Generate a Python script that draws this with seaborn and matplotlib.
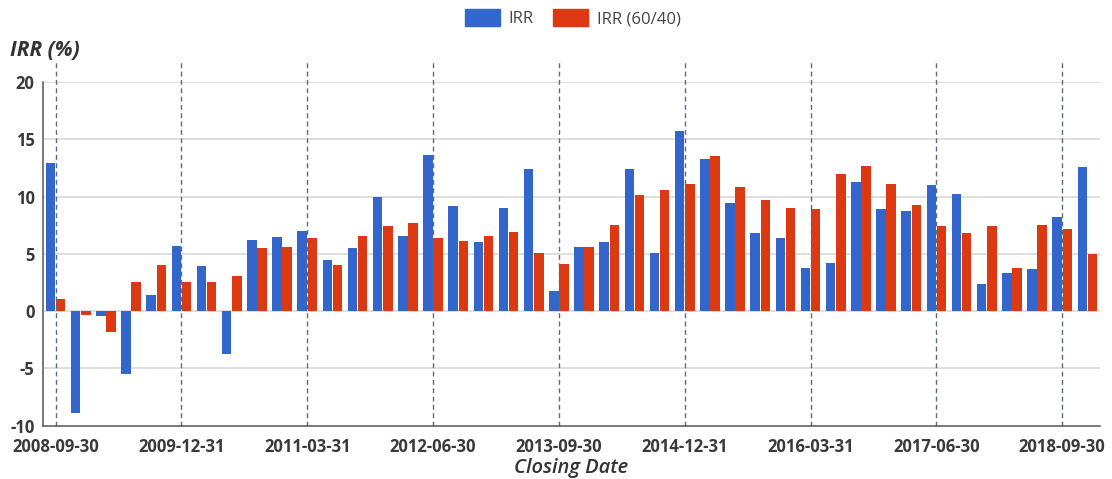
import matplotlib
matplotlib.use("Agg")
import matplotlib.pyplot as plt
from matplotlib.patches import Patch
import seaborn as sns
import pandas as pd

dates = [
    "2008-09-30", "2008-12-31", "2009-03-31", "2009-06-30", "2009-09-30",
    "2009-12-31", "2010-03-31", "2010-06-30", "2010-09-30", "2010-12-31",
    "2011-03-31", "2011-06-30", "2011-09-30", "2011-12-31", "2012-03-31",
    "2012-06-30", "2012-09-30", "2012-12-31", "2013-03-31", "2013-06-30",
    "2013-09-30", "2013-12-31", "2014-03-31", "2014-06-30", "2014-09-30",
    "2014-12-31", "2015-03-31", "2015-06-30", "2015-09-30", "2015-12-31",
    "2016-03-31", "2016-06-30", "2016-09-30", "2016-12-31", "2017-03-31",
    "2017-06-30", "2017-09-30", "2017-12-31", "2018-03-31", "2018-06-30",
    "2018-09-30", "2018-12-31",
]
irr = [
    12.9, -8.9, -0.4, -5.5, 1.4, 5.7, 3.9, -3.7, 6.2, 6.5,
    7.0, 4.5, 5.5, 10.0, 6.6, 13.6, 9.2, 6.0, 9.0, 12.4,
    1.8, 5.6, 6.0, 12.4, 5.1, 15.7, 13.3, 9.4, 6.8, 6.4,
    3.8, 4.2, 11.3, 8.9, 8.7, 11.0, 10.2, 2.4, 3.3, 3.7,
    8.2, 12.6,
]
irr_6040 = [
    1.1, -0.35, -1.8, 2.5, 4.0, 2.5, 2.5, 3.1, 5.5, 5.6,
    6.4, 4.0, 6.6, 7.4, 7.7, 6.4, 6.1, 6.55, 6.9, 5.05,
    4.1, 5.6, 7.5, 10.1, 10.6, 11.1, 13.5, 10.8, 9.7, 9.0,
    8.9, 12.0, 12.7, 11.1, 9.3, 7.4, 6.8, 7.45, 3.8, 7.5,
    7.2, 5.0,
]
series_names = ["IRR", "IRR (60/40)"]
colors = ["#3366cc", "#dc3912"]
tick_labels = ["2008-09-30", "2009-12-31", "2011-03-31", "2012-06-30",
               "2013-09-30", "2014-12-31", "2016-03-31", "2017-06-30",
               "2018-09-30"]
y_ticks = [-10, -5, 0, 5, 10, 15, 20]

df = pd.DataFrame({
    "date": dates * 2,
    "series": [series_names[0]] * len(dates) + [series_names[1]] * len(dates),
    "value": irr + irr_6040,
})

sns.set_theme(style="white")
plt.rcParams["font.family"] = ["Open Sans", "DejaVu Sans"]

fig = plt.figure(figsize=(11.12, 4.79), dpi=100)
ax = fig.add_axes([43 / 1112, 1 - 425.7 / 479, (1100 - 43) / 1112, (425.7 - 82) / 479])

sns.barplot(data=df, x="date", y="value", hue="series", order=dates,
            hue_order=series_names, palette=colors, width=0.8, gap=0.06,
            linewidth=0, saturation=1, ax=ax, legend=False, zorder=2)

ax.set_xlim(-0.5, len(dates) - 0.5)
ax.set_ylim(-10, 20)
ax.set_yticks(y_ticks)
ax.set_yticklabels([str(v) for v in y_ticks])
for v in y_ticks[1:]:
    ax.axhline(v, color="#d6d6d6", lw=1.1, zorder=0)

pos = [dates.index(t) for t in tick_labels]
ax.set_xticks(pos)
ax.set_xticklabels(tick_labels)
for p in pos:
    ax.axvline(p, ymin=0, ymax=1.064, color="#5b6b80", lw=1.0,
               linestyle=(0, (3.5, 2.5)), clip_on=False, zorder=3)

for s in ["top", "right"]:
    ax.spines[s].set_visible(False)
for s in ["left", "bottom"]:
    ax.spines[s].set_color("#555555")
    ax.spines[s].set_linewidth(1.1)
    ax.spines[s].set_zorder(4)

ax.tick_params(axis="y", length=4, width=1, color="#555555", pad=2,
               labelsize=12, labelcolor="#3a3a3a")
ax.tick_params(axis="x", length=0, pad=9, labelsize=12, labelcolor="#3a3a3a")
for lab in ax.get_xticklabels() + ax.get_yticklabels():
    lab.set_fontweight("bold")

ax.set_xlabel("Closing Date", fontsize=14.5, fontstyle="italic",
              fontweight="semibold", color="#333333", labelpad=1)
ax.set_ylabel("")
fig.text(10 / 1112, 1 - 50 / 479, "IRR (%)", ha="left", va="center",
         fontsize=15, fontstyle="italic", fontweight="bold", color="#333333")

handles = [Patch(facecolor=c, edgecolor=c, label=n) for c, n in zip(colors, series_names)]
fig.legend(handles=handles, loc="center", bbox_to_anchor=(0.515, 1 - 18 / 479),
           ncol=2, frameon=False, fontsize=12, handlelength=2.1, handleheight=1.2,
           columnspacing=1.2, handletextpad=0.5, labelcolor="#444444")

fig.savefig("out.png", dpi=100)
